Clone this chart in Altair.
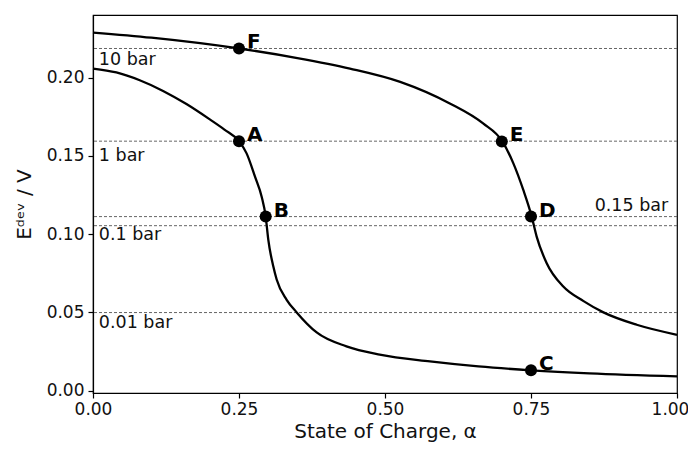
import altair as alt
import pandas as pd

# Lower curve (state of charge, E_dev)
low_soc = [0.0, 0.04, 0.08, 0.12, 0.16, 0.20, 0.225, 0.25, 0.263, 0.2774, 0.2888, 0.2957, 0.3002,
           0.3088, 0.3145, 0.3316, 0.3488, 0.383, 0.434, 0.491, 0.577, 0.66, 0.75, 0.85, 1.0]
low_e = [0.2058, 0.2033, 0.1983, 0.1915, 0.1831, 0.1733, 0.1668, 0.1594, 0.1516, 0.1367, 0.1239,
         0.1112, 0.0963, 0.0793, 0.0710, 0.0580, 0.0500, 0.0372, 0.0283, 0.0230, 0.0187, 0.0155,
         0.0130, 0.0110, 0.0091]

# Upper curve
up_soc = [0.0, 0.1, 0.25, 0.35, 0.44, 0.526, 0.611, 0.668, 0.701, 0.7198, 0.7368, 0.7512,
          0.7597, 0.7769, 0.8053, 0.84, 0.874, 0.931, 1.0]
up_e = [0.2288, 0.2255, 0.2186, 0.2125, 0.2058, 0.1973, 0.1835, 0.1707, 0.1592, 0.1452, 0.1282,
        0.1112, 0.0984, 0.0814, 0.0665, 0.0572, 0.0500, 0.0421, 0.0357]

# Marked points
pt_names = ["A", "B", "C", "D", "E", "F"]
pt_soc = [0.25, 0.2957, 0.75, 0.75, 0.70, 0.25]
pt_e = [0.1594, 0.1112, 0.013, 0.1112, 0.1592, 0.2186]

# Reference (pressure) lines
ref_e = [0.2186, 0.1594, 0.1112, 0.1054, 0.0499]

# Pressure labels
left_labels = ["10 bar", "1 bar", "0.1 bar", "0.01 bar"]
left_soc = [0.01, 0.01, 0.01, 0.01]
left_e = [0.211, 0.150, 0.0995, 0.0434]
right_labels = ["0.15 bar"]
right_soc = [0.985]
right_e = [0.1177]

curves = pd.DataFrame({
    "soc": low_soc + up_soc,
    "E": low_e + up_e,
    "curve": ["low"] * len(low_soc) + ["up"] * len(up_soc),
})
points = pd.DataFrame({"soc": pt_soc, "E": pt_e, "name": pt_names})
refs = pd.DataFrame({"E": ref_e})
lefts = pd.DataFrame({"soc": left_soc, "E": left_e, "t": left_labels})
rights = pd.DataFrame({"soc": right_soc, "E": right_e, "t": right_labels})

FONT = "DejaVu Sans"

xs = alt.Scale(domain=[0, 1], nice=False, zero=False)
ys = alt.Scale(domain=[-0.0015, 0.24], nice=False, zero=False)

xaxis = alt.Axis(values=[0, 0.25, 0.5, 0.75, 1.0], format=".2f", title="State of Charge, α",
                 grid=False, tickSize=5, labelPadding=3, titlePadding=4, labelFlush=False,
                 labelOffset={"condition": {"test": "datum.value >= 1", "value": -7}, "value": 0})
yaxis = alt.Axis(values=[0, 0.05, 0.10, 0.15, 0.20], format=".2f", title="Eᵈᵉᵛ / V",
                 grid=False, tickSize=5, labelPadding=4, titlePadding=12, labelFlush=False)

base_x = alt.X("soc:Q", scale=xs, axis=xaxis)
base_y = alt.Y("E:Q", scale=ys, axis=yaxis)

rules = alt.Chart(refs).mark_rule(color="#555555", strokeWidth=0.9, strokeDash=[3, 2]).encode(
    y=alt.Y("E:Q", scale=ys, axis=yaxis)
)

lines = alt.Chart(curves).mark_line(color="black", strokeWidth=2.3, interpolate="monotone").encode(
    x=base_x, y=base_y, detail="curve:N"
)

dots = alt.Chart(points).mark_point(filled=True, color="black", size=145, opacity=1).encode(
    x=base_x, y=base_y
)

dot_labels = alt.Chart(points).mark_text(
    align="left", baseline="middle", dx=8, dy=-6, font=FONT, fontSize=20, fontWeight="bold", color="black"
).encode(x=base_x, y=base_y, text="name:N")

left_txt = alt.Chart(lefts).mark_text(
    align="left", baseline="middle", font=FONT, fontSize=17.5, color="#111111"
).encode(x=base_x, y=base_y, text="t:N")

right_txt = alt.Chart(rights).mark_text(
    align="right", baseline="middle", font=FONT, fontSize=17.5, color="#111111"
).encode(x=base_x, y=base_y, text="t:N")

chart = alt.layer(rules, lines, dots, dot_labels, left_txt, right_txt).properties(
    width=584, height=378,
    autosize="none",
    padding={"left": 85, "top": 7, "right": 11, "bottom": 50},
).configure_view(
    stroke="black", strokeWidth=1.2
).configure_axis(
    domainColor="black", domainWidth=1.2, tickColor="black", tickWidth=1.2,
    labelFont=FONT, labelFontSize=17, labelColor="#111111",
    titleFont=FONT, titleFontSize=20, titleFontWeight="normal", titleColor="#111111",
)

chart.save("out.html", embed_options={"renderer": "svg", "actions": False})
